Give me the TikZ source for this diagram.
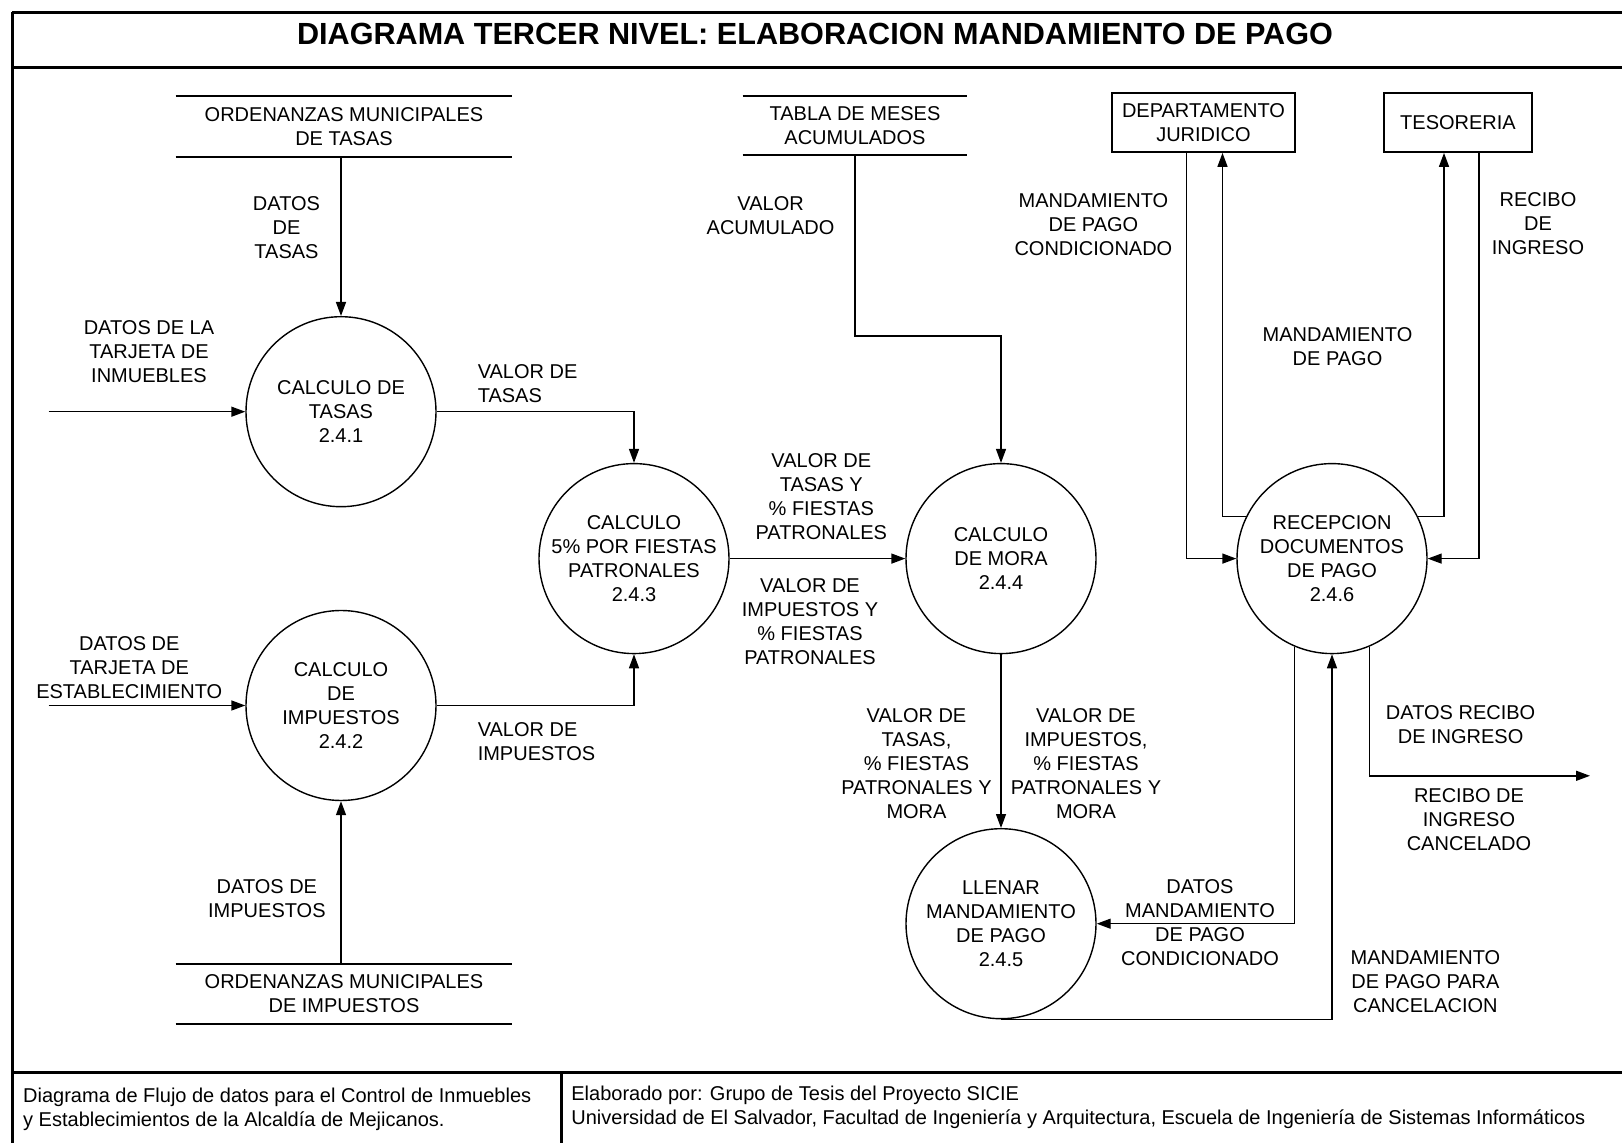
\documentclass[tikz,border=0pt]{standalone}
\usepackage{fontspec}
\setmainfont{Liberation Sans}
\usetikzlibrary{arrows.meta}

\begin{document}
\begin{tikzpicture}[x=0.5pt,y=-0.5pt,
  every node/.style={font=\fontsize{10}{12}\selectfont, align=center},
  proc/.style={draw, circle, minimum size=95pt, inner sep=-2pt, line width=0.7pt},
  ent/.style={draw, rectangle, minimum height=29.5pt, inner sep=0pt, line width=0.9pt},
  store/.style={minimum height=30pt, inner sep=0pt},
  flow/.style={-{Triangle[length=7pt,width=5pt]}, line width=0.7pt},
  pie/.style={anchor=west, align=left, inner sep=0pt, font=\fontsize{10}{12}\selectfont},
  frame/.style={line width=1.4pt}]
\useasboundingbox (0,0) rectangle (1622,1143);

\draw[frame] (12.4,12.4) -- (1622,12.4);
\draw[frame] (12.4,67.2) -- (1622,67.2);
\draw[frame] (12.4,12.4) -- (12.4,1143);
\draw[frame] (12.4,1072.7) -- (1622,1072.7);
\draw[frame] (561.7,1072.7) -- (561.7,1143);
\node (titulo) at (815,34) {\bfseries\fontsize{15.3}{18}\selectfont DIAGRAMA TERCER NIVEL: ELABORACION MANDAMIENTO DE PAGO};

\node[proc] (c241) at (341,411.7) {CALCULO DE\\TASAS\\2.4.1};
\node[proc] (c242) at (341,705.5) {CALCULO\\DE\\IMPUESTOS\\2.4.2};
\node[proc] (c243) at (634,558.6) {CALCULO\\5\% POR FIESTAS\\PATRONALES\\2.4.3};
\node[proc] (c244) at (1001,558.6) {CALCULO\\DE MORA\\2.4.4};
\node[proc] (c245) at (1001,923.7) {LLENAR\\MANDAMIENTO\\DE PAGO\\2.4.5};
\node[proc] (c246) at (1332,558.6) {RECEPCION\\DOCUMENTOS\\DE PAGO\\2.4.6};

\node[ent, minimum width=91.5pt] (dj) at (1203.5,122.5) {DEPARTAMENTO\\JURIDICO};
\node[ent, minimum width=74pt] (tes) at (1458,122.5) {TESORERIA};

\node[store, minimum width=168pt] (st1) at (344,126.7) {ORDENANZAS MUNICIPALES\\DE TASAS};
\node[store, minimum width=168pt] (st2) at (344,994) {ORDENANZAS MUNICIPALES\\DE IMPUESTOS};
\node[store, minimum width=112pt, minimum height=29.5pt] (st3) at (855,125.6) {TABLA DE MESES\\ACUMULADOS};
\draw[line width=1pt] (st1.north west) -- (st1.north east) (st1.south west) -- (st1.south east);
\draw[line width=1pt] (st2.north west) -- (st2.north east) (st2.south west) -- (st2.south east);
\draw[line width=1pt] (st3.north west) -- (st3.north east) (st3.south west) -- (st3.south east);

\coordinate (in1) at (48.6,411.7);
\coordinate (in2) at (48.6,705.5);
\coordinate (k1) at (855,336);
\coordinate (out) at (1590,775.8);

\draw[flow] (in1) -- (c241);
\draw[flow] (in2) -- (c242);
\draw[flow] (st1.south -| c241) -- (c241);
\draw[flow] (st2.north -| c242) -- (c242);
\draw[flow] (c241) -| (c243);
\draw[flow] (c242) -| (c243);
\draw[flow] (c243) -- (c244);
\draw[flow] (st3) -- (k1) -| (c244);
\draw[flow] (c244) -- (c245);
\draw[flow] ([xshift=-8.5pt]dj.south) |- (c246);
\draw[flow] (c246.154) -| ([xshift=9.5pt]dj.south);
\draw[flow] (c246.26) -| ([xshift=-7pt]tes.south);
\draw[flow] ([xshift=10.5pt]tes.south) |- (c246);
\draw[flow] (c246.247) |- (c245);
\draw[flow] (c245.south) -| (c246);
\draw[flow] (c246.293) |- (out);

\node (dt) at (286.5,227.6) {DATOS\\DE\\TASAS};
\node (dti) at (149,351.7) {DATOS DE LA\\TARJETA DE\\INMUEBLES};
\node[anchor=west, align=left] (vt) at (470.7,383.8) {VALOR DE\\TASAS};
\node (dte) at (129.3,667.2) {DATOS DE\\TARJETA DE\\ESTABLECIMIENTO};
\node[anchor=west, align=left] (vi) at (470.7,741.7) {VALOR DE\\IMPUESTOS};
\node (di) at (266.9,898.9) {DATOS DE\\IMPUESTOS};
\node (va) at (770.6,215.2) {VALOR\\ACUMULADO};
\node (vtf) at (821.3,496.5) {VALOR DE\\TASAS Y\\\% FIESTAS\\PATRONALES};
\node (vif) at (810,621.7) {VALOR DE\\IMPUESTOS Y\\\% FIESTAS\\PATRONALES};
\node (vtm) at (916.5,763.4) {VALOR DE\\TASAS,\\\% FIESTAS\\PATRONALES Y\\MORA};
\node (vim) at (1086,763.4) {VALOR DE\\IMPUESTOS,\\\% FIESTAS\\PATRONALES Y\\MORA};
\node (mpc) at (1093.4,224.5) {MANDAMIENTO\\DE PAGO\\CONDICIONADO};
\node (mp) at (1337.5,346.5) {MANDAMIENTO\\DE PAGO};
\node (ri) at (1538,223.4) {RECIBO\\DE\\INGRESO};
\node (dri) at (1460.6,725) {DATOS RECIBO\\DE INGRESO};
\node (ric) at (1469,819.2) {RECIBO DE\\INGRESO\\CANCELADO};
\node (dmp) at (1200,922.7) {DATOS\\MANDAMIENTO\\DE PAGO\\CONDICIONADO};
\node (mpp) at (1425.4,981.7) {MANDAMIENTO\\DE PAGO PARA\\CANCELACION};

\node[pie] (pie1) at (22.8,1109) {Diagrama de Flujo de datos para el Control de Inmuebles\\y Establecimientos de la Alcaldía de Mejicanos.};
\node[pie] (pie2) at (571,1107.5) {Elaborado por: Grupo de Tesis del Proyecto SICIE\\Universidad de El Salvador, Facultad de Ingeniería y Arquitectura, Escuela de Ingeniería de Sistemas Informáticos};
\end{tikzpicture}
\end{document}
